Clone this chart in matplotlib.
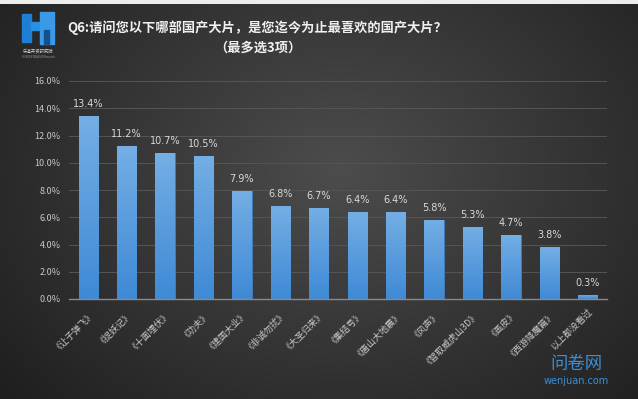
import numpy as np
import matplotlib.pyplot as plt
from matplotlib.patches import Rectangle

plt.rcParams['font.family'] = ['Noto Sans CJK SC', 'DejaVu Sans']

films = ['《让子弹飞》', '《捉妖记》', '《十面埋伏》', '《功夫》', '《建国大业》',
         '《非诚勿扰》', '《大圣归来》', '《集结号》', '《唐山大地震》', '《风声》',
         '《智取威虎山3D》', '《画皮》', '《西游降魔篇》', '以上都没看过']
share = [13.4, 11.2, 10.7, 10.5, 7.9, 6.8, 6.7, 6.4, 6.4, 5.8, 5.3, 4.7, 3.8, 0.3]
yticks = [0, 2, 4, 6, 8, 10, 12, 14, 16]

title = 'Q6:请问您以下哪部国产大片，是您迄今为止最喜欢的国产大片？'
subtitle = '（最多选3项）'

W, H = 638, 399
fig = plt.figure(figsize=(W / 100, H / 100), dpi=100)

# background: dark radial gradient
bg = fig.add_axes([0, 0, 1, 1], zorder=-10)
yy, xx = np.mgrid[0:H, 0:W]
r = np.sqrt(((xx - 340) / 420) ** 2 + ((yy - 170) / 330) ** 2)
v = np.clip(0.30 - 0.17 * r, 0.12, 0.30)
img = np.dstack([v, v, v])
img[:4, :, :] = 0.93  # white strip at the top
bg.imshow(img, aspect='auto', extent=[0, W, H, 0])
bg.set_xlim(0, W)
bg.set_ylim(H, 0)
bg.axis('off')

# logo (rough)
bg.add_patch(Rectangle((22, 14), 9, 28, color='#1e7fd6'))
bg.add_patch(Rectangle((31, 22), 12, 8, color='#2a8fe0'))
bg.add_patch(Rectangle((40, 12), 14, 32, color='#3a9ae8'))
bg.add_patch(Rectangle((44, 30), 5, 14, color='#15508a'))
bg.text(38, 51, '乐道开资研究院', color='#cfcfcf', fontsize=3.2, ha='center', va='center')
bg.text(38, 57, 'HUNDERTWASSER Research', color='#9a9a9a', fontsize=1.8, ha='center', va='center')

# title
bg.text(257, 28, title, color='#f0f0f0', fontsize=9.5, fontweight='bold', ha='center', va='center')
bg.text(258, 48, subtitle, color='#f0f0f0', fontsize=9.5, fontweight='bold', ha='center', va='center')

# watermark
bg.text(576, 364, '问卷网', color='#3b8fd6', fontsize=12.5, ha='center', va='center')
bg.text(576, 381, 'wenjuan.com', color='#3b8fd6', fontsize=7, ha='center', va='center', family='DejaVu Sans')

ax = fig.add_axes([69 / W, 1 - 299 / H, (607 - 69) / W, (299 - 81) / H])
ax.patch.set_alpha(0)
x = np.arange(len(films))
bars = ax.bar(x, share, width=0.5, color='#5b9bd5', edgecolor='#3f7fc0', linewidth=0.6, zorder=2)

# vertical gradient inside each bar
grad = np.linspace(0, 1, 100).reshape(-1, 1)
cmap = plt.matplotlib.colors.LinearSegmentedColormap.from_list('b', ['#3f8ad6', '#74aee4'])
for b in bars:
    x0, w, h = b.get_x(), b.get_width(), b.get_height()
    im = ax.imshow(grad, cmap=cmap, aspect='auto', origin='lower',
                   extent=[x0, x0 + w, 0, h], zorder=2.5)
    im.set_clip_path(b)

for xi, s in zip(x, share):
    ax.annotate(f'{s:.1f}%', (xi, s), xytext=(0, 5), textcoords='offset points',
                ha='center', va='bottom', color='#d8d8d8', fontsize=7, family='DejaVu Sans')

ax.set_xlim(-0.5, len(films) - 0.5)
ax.set_ylim(0, 16)
ax.set_yticks(yticks)
ax.set_yticklabels([f'{t:.1f}%' for t in yticks], color='#c8c8c8', fontsize=6.5)
ax.set_xticks(x)
ax.set_xticklabels(films, rotation=45, ha='right', va='top', rotation_mode='anchor',
                   color='#c8c8c8', fontsize=6.5)
ax.tick_params(length=0, pad=6)
ax.grid(axis='y', color='#555555', linewidth=0.7, zorder=0)
for sp in ['top', 'right', 'left']:
    ax.spines[sp].set_visible(False)
ax.spines['bottom'].set_color('#8a8a8a')
ax.spines['bottom'].set_linewidth(1)
ax.spines['bottom'].set_zorder(3)

fig.savefig('out.png', dpi=100)
